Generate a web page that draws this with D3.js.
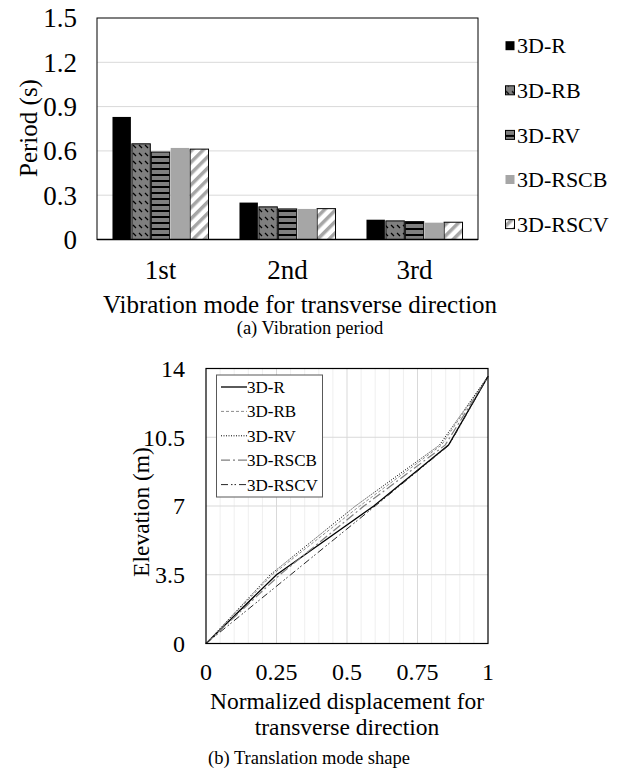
<!DOCTYPE html>
<html>
<head>
<meta charset="utf-8">
<script src="https://cdn.jsdelivr.net/npm/d3@7"></script>
<style>
  body { margin: 0; background: #fff; }
  svg text { font-family: "Times New Roman", Times, "Liberation Serif", serif; fill: #000; }
</style>
</head>
<body>
<svg id="chart" width="624" height="769"></svg>
<script>
// bar chart data (period, s)
var modes = ['1st', '2nd', '3rd'];
var barSeries = ['3D-R', '3D-RB', '3D-RV', '3D-RSCB', '3D-RSCV'];
var periods = {
    '3D-R':    [0.83, 0.25, 0.134],
    '3D-RB':   [0.648, 0.221, 0.126],
    '3D-RV':   [0.592, 0.207, 0.121],
    '3D-RSCB': [0.62, 0.207, 0.114],
    '3D-RSCV': [0.612, 0.209, 0.117]
};
var periodTicks = [0, 0.3, 0.6, 0.9, 1.2, 1.5];

// mode shape data
var elevations = [0, 3.5, 7.0, 10.1, 13.6];
var shapeR    = [0, 0.25, 0.595, 0.86, 1];
var shapeRB   = [0, 0.235, 0.545, 0.835, 1];
var shapeRV   = [0, 0.228, 0.53, 0.828, 1];
var shapeRSCB = [0, 0.262, 0.56, 0.848, 1];
var shapeRSCV = [0, 0.30, 0.60, 0.862, 1];
var dispTicks = [0, 0.25, 0.5, 0.75, 1];
var elevTicks = [0, 3.5, 7, 10.5, 14];

var svg = d3.select('#chart');
var defs = svg.append('defs');

// fill patterns, roughly what excel gives
var pRB = defs.append('pattern').attr('id', 'pRB').attr('patternUnits', 'userSpaceOnUse')
    .attr('width', 6).attr('height', 8);
pRB.append('rect').attr('width', 6).attr('height', 8).attr('fill', '#7f7f7f');
pRB.append('path').attr('d', 'M1,1 L4,4').attr('stroke', '#000').attr('stroke-width', 1.2);

var pRV = defs.append('pattern').attr('id', 'pRV').attr('patternUnits', 'userSpaceOnUse')
    .attr('width', 8).attr('height', 6);
pRV.append('rect').attr('width', 8).attr('height', 6).attr('fill', '#7f7f7f');
pRV.append('rect').attr('y', 0).attr('width', 8).attr('height', 2).attr('fill', '#000');

var pRSCV = defs.append('pattern').attr('id', 'pRSCV').attr('patternUnits', 'userSpaceOnUse')
    .attr('width', 8).attr('height', 8).attr('patternTransform', 'rotate(45)');
pRSCV.append('rect').attr('width', 8).attr('height', 8).attr('fill', '#fff');
pRSCV.append('rect').attr('width', 3.5).attr('height', 8).attr('fill', '#a6a6a6');

var barFill = {
    '3D-R': '#000', '3D-RB': 'url(#pRB)', '3D-RV': 'url(#pRV)',
    '3D-RSCB': '#a6a6a6', '3D-RSCV': 'url(#pRSCV)'
};
var barStroke = {
    '3D-R': 'none', '3D-RB': '#000', '3D-RV': '#000', '3D-RSCB': 'none', '3D-RSCV': '#000'
};

// ---- (a) bar chart ----
var x0 = d3.scaleBand().domain(modes).range([97, 478]);
var groupW = x0.bandwidth() * 0.764;
var x1 = d3.scaleBand().domain(barSeries)
    .range([(x0.bandwidth() - groupW) / 2, (x0.bandwidth() + groupW) / 2]);
var y = d3.scaleLinear().domain([0, 1.5]).range([239.5, 18]);

var gA = svg.append('g');
gA.selectAll('line.grid').data(periodTicks.slice(1, -1)).enter().append('line')
    .attr('x1', 97).attr('x2', 478)
    .attr('y1', function(d) { return y(d); }).attr('y2', function(d) { return y(d); })
    .attr('stroke', '#d9d9d9').attr('stroke-width', 1);

modes.forEach(function(m, i) {
    barSeries.forEach(function(s) {
        var v = periods[s][i];
        gA.append('rect')
            .attr('x', x0(m) + x1(s) + 0.5)
            .attr('y', y(v))
            .attr('width', x1.bandwidth() - 1)
            .attr('height', y(0) - y(v))
            .attr('fill', barFill[s])
            .attr('stroke', barStroke[s])
            .attr('stroke-width', 1);
    });
});

// frame
gA.append('rect').attr('x', 97).attr('y', 18).attr('width', 381).attr('height', 221.5)
    .attr('fill', 'none').attr('stroke', '#000').attr('stroke-width', 1);
gA.append('line').attr('x1', 97).attr('x2', 478).attr('y1', y(0)).attr('y2', y(0))
    .attr('stroke', '#000').attr('stroke-width', 1.5);

gA.selectAll('text.ytick').data(periodTicks).enter().append('text')
    .attr('x', 77).attr('y', function(d) { return y(d); })
    .attr('dy', '0.35em').attr('text-anchor', 'end').attr('font-size', 27)
    .text(function(d) { return d === 0 ? '0' : d.toFixed(1); });

gA.selectAll('text.xtick').data(modes).enter().append('text')
    .attr('x', function(d) { return x0(d) + x0.bandwidth() / 2; }).attr('y', 270)
    .attr('dy', '0.35em').attr('text-anchor', 'middle').attr('font-size', 27)
    .text(function(d) { return d; });

gA.append('text').attr('x', 300).attr('y', 304).attr('dy', '0.35em')
    .attr('text-anchor', 'middle').attr('font-size', 25)
    .text('Vibration mode for transverse direction');
gA.append('text').attr('transform', 'translate(28,128) rotate(-90)').attr('dy', '0.35em')
    .attr('text-anchor', 'middle').attr('font-size', 25).text('Period (s)');
gA.append('text').attr('x', 310).attr('y', 328).attr('dy', '0.35em')
    .attr('text-anchor', 'middle').attr('font-size', 18.5).text('(a) Vibration period');

var legA = gA.selectAll('g.leg').data(barSeries).enter().append('g')
    .attr('transform', function(d, i) { return 'translate(505,' + (45.7 + i * 44.6) + ')'; });
legA.append('rect').attr('x', 0.5).attr('y', -4.5).attr('width', 9).attr('height', 9)
    .attr('fill', function(d) { return barFill[d]; })
    .attr('stroke', function(d) { return barStroke[d]; });
legA.append('text').attr('x', 12).attr('dy', '0.35em').attr('font-size', 22)
    .text(function(d) { return d; });

// ---- (b) mode shape ----
var xs = d3.scaleLinear().domain([0, 1]).range([206, 488]);
var ys = d3.scaleLinear().domain([0, 14]).range([643.5, 368.5]);
var gB = svg.append('g');

gB.selectAll('line.vminor').data(d3.range(1, 20).map(function(i) { return i * 0.05; }))
    .enter().append('line')
    .attr('x1', function(d) { return xs(d); }).attr('x2', function(d) { return xs(d); })
    .attr('y1', ys(0)).attr('y2', ys(14))
    .attr('stroke', function(d, i) { return (i + 1) % 5 === 0 ? '#d9d9d9' : '#efefef'; })
    .attr('stroke-width', 1);
gB.selectAll('line.hgrid').data(elevTicks.slice(1, -1)).enter().append('line')
    .attr('x1', xs(0)).attr('x2', xs(1))
    .attr('y1', function(d) { return ys(d); }).attr('y2', function(d) { return ys(d); })
    .attr('stroke', '#d9d9d9').attr('stroke-width', 1.2);

var lineSeries = [
    { name: '3D-R', vals: shapeR, color: '#000', dash: null, w: 1.3 },
    { name: '3D-RB', vals: shapeRB, color: '#8c8c8c', dash: '3,2', w: 1 },
    { name: '3D-RV', vals: shapeRV, color: '#000', dash: '1,1.5', w: 1 },
    { name: '3D-RSCB', vals: shapeRSCB, color: '#7f7f7f', dash: '9,3,2,3', w: 1.2 },
    { name: '3D-RSCV', vals: shapeRSCV, color: '#262626', dash: '7,3,1.5,2,1.5,3', w: 1 }
];

var line = d3.line()
    .x(function(d) { return xs(d[0]); })
    .y(function(d) { return ys(d[1]); });

lineSeries.forEach(function(s) {
    gB.append('path')
        .datum(s.vals.map(function(v, i) { return [v, elevations[i]]; }))
        .attr('d', line)
        .attr('fill', 'none')
        .attr('stroke', s.color)
        .attr('stroke-width', s.w)
        .attr('stroke-dasharray', s.dash);
});

gB.append('rect').attr('x', xs(0)).attr('y', ys(14)).attr('width', xs(1) - xs(0))
    .attr('height', ys(0) - ys(14)).attr('fill', 'none').attr('stroke', '#000').attr('stroke-width', 1.2);

gB.selectAll('text.ytick').data(elevTicks).enter().append('text')
    .attr('x', 185).attr('y', function(d) { return ys(d); })
    .attr('dy', '0.35em').attr('text-anchor', 'end').attr('font-size', 24)
    .text(function(d) { return d; });
gB.selectAll('text.xtick').data(dispTicks).enter().append('text')
    .attr('x', function(d) { return xs(d); }).attr('y', 672)
    .attr('dy', '0.35em').attr('text-anchor', 'middle').attr('font-size', 24)
    .text(function(d) { return d; });

gB.append('text').attr('x', 347).attr('y', 701).attr('dy', '0.35em')
    .attr('text-anchor', 'middle').attr('font-size', 23.5).text('Normalized displacement for');
gB.append('text').attr('x', 347).attr('y', 727).attr('dy', '0.35em')
    .attr('text-anchor', 'middle').attr('font-size', 23.5).text('transverse direction');
gB.append('text').attr('transform', 'translate(141,512) rotate(-90)').attr('dy', '0.35em')
    .attr('text-anchor', 'middle').attr('font-size', 23.5).text('Elevation (m)');
gB.append('text').attr('x', 309).attr('y', 758).attr('dy', '0.35em')
    .attr('text-anchor', 'middle').attr('font-size', 18.5).text('(b) Translation mode shape');

// legend box
gB.append('rect').attr('x', 216.5).attr('y', 375).attr('width', 106).attr('height', 122)
    .attr('fill', '#fff').attr('stroke', '#595959').attr('stroke-width', 1);
var legB = gB.selectAll('g.legb').data(lineSeries).enter().append('g')
    .attr('transform', function(d, i) { return 'translate(221,' + (387 + i * 24.4) + ')'; });
legB.append('line').attr('x1', 0).attr('x2', 26)
    .attr('stroke', function(d) { return d.color; })
    .attr('stroke-width', function(d) { return d.w; })
    .attr('stroke-dasharray', function(d) { return d.dash; });
legB.append('text').attr('x', 26).attr('dy', '0.35em').attr('font-size', 17)
    .text(function(d) { return d.name; });
</script>
</body>
</html>
